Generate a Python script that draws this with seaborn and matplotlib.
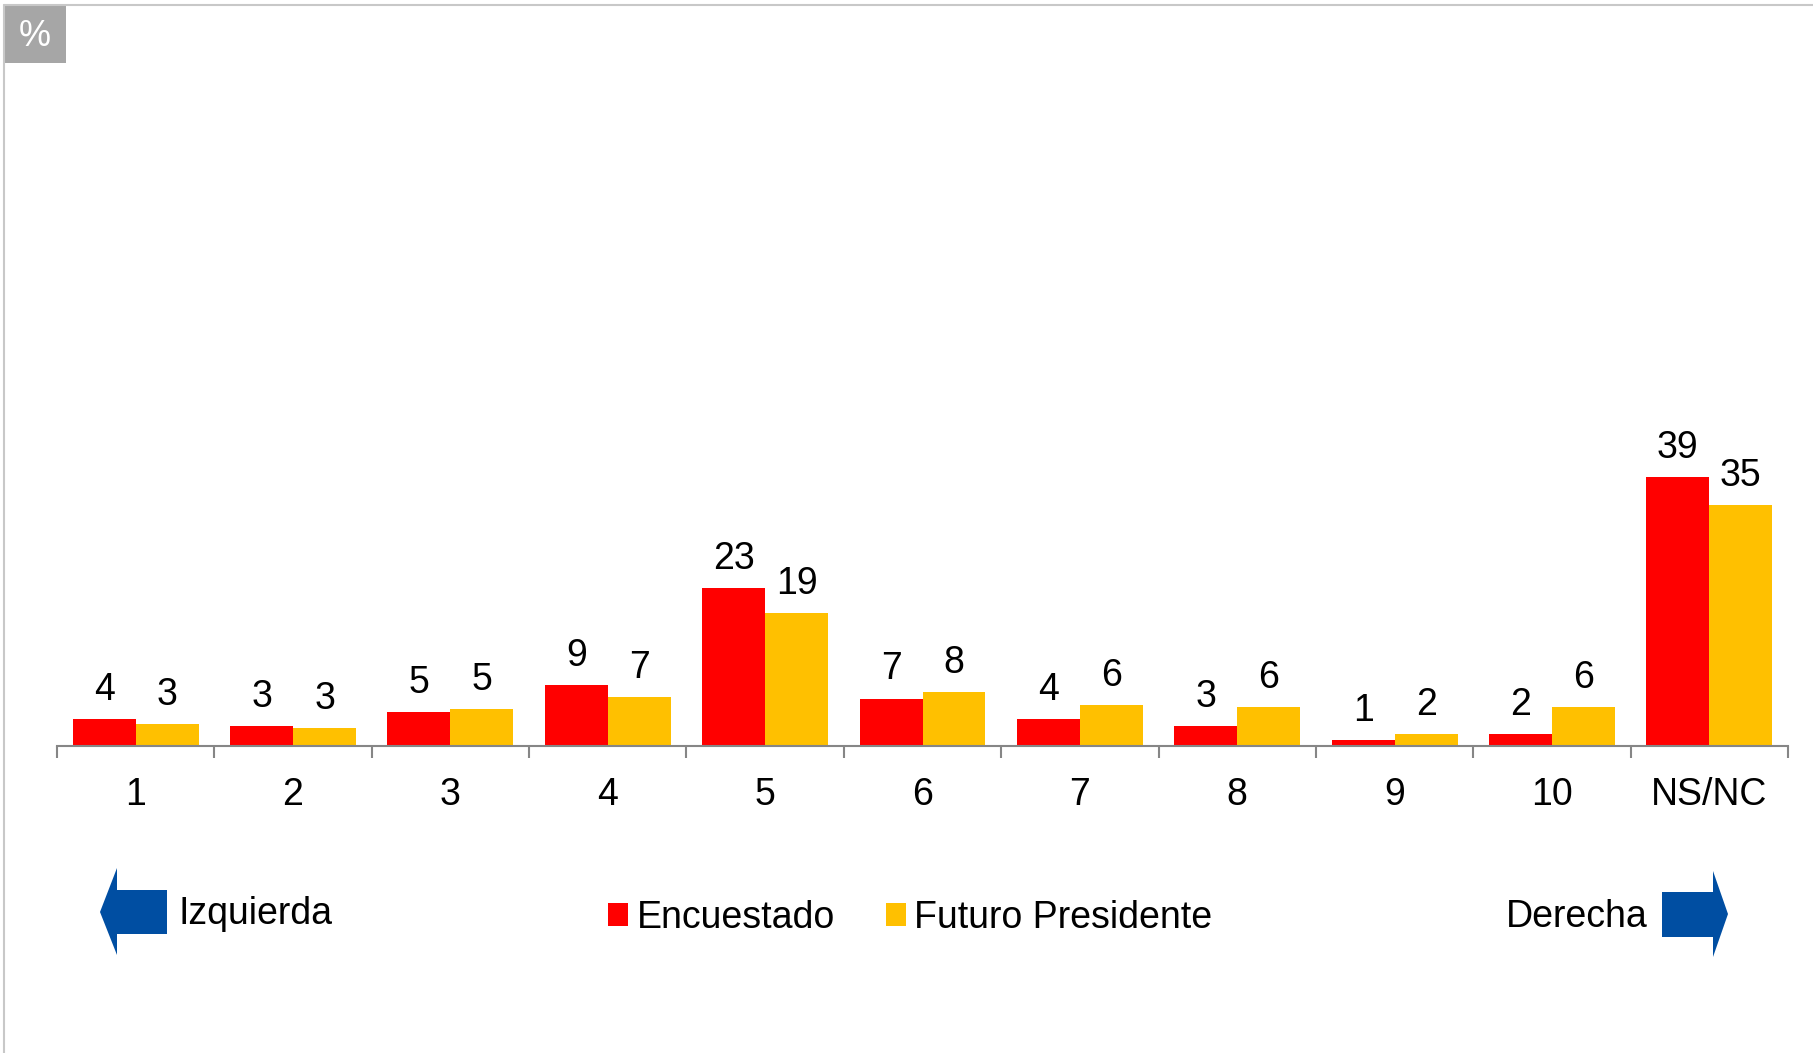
import pandas as pd
import numpy as np
import matplotlib.pyplot as plt
import seaborn as sns
from matplotlib.patches import Patch, Polygon, Rectangle
from matplotlib.lines import Line2D

# data (bar heights, labels are rounded)
categorias = ['1', '2', '3', '4', '5', '6', '7', '8', '9', '10', 'NS/NC']
encuestado = [3.9, 2.9, 4.9, 8.9, 23.0, 6.9, 3.9, 2.9, 0.8, 1.8, 39.1]
futuro_presidente = [3.2, 2.6, 5.4, 7.1, 19.3, 7.9, 6.0, 5.6, 1.7, 5.6, 35.0]
series = ['Encuestado', 'Futuro Presidente']
colores = ['#FF0000', '#FFC000']

df = pd.DataFrame({'cat': categorias, 'Encuestado': encuestado,
                   'Futuro Presidente': futuro_presidente})
long_df = df.melt(id_vars='cat', var_name='serie', value_name='valor')

sns.set_style('white')
plt.rcParams['font.family'] = ['Liberation Sans', 'DejaVu Sans']
plt.rcParams['text.color'] = 'black'
plt.rcParams['xtick.color'] = 'black'

FS = 27
W, H = 1813, 1053
fig = plt.figure(figsize=(W / 100, H / 100), dpi=100)
ax = fig.add_axes([57 / W, 1 - 746 / H, (1788 - 57) / W, 688 / H])

sns.barplot(data=long_df, x='cat', y='valor', hue='serie', order=categorias,
            hue_order=series, palette=colores, saturation=1, width=0.8,
            linewidth=0, ax=ax)
ax.legend_.remove()

for cont in ax.containers:
    ax.bar_label(cont, fmt='%.0f', padding=8, fontsize=FS, color='black')

ax.set_xlim(-0.5, len(categorias) - 0.5)
ax.set_ylim(0, 100)
ax.set_xlabel('')
ax.set_ylabel('')
ax.set_yticks([])
for s in ['top', 'left', 'right']:
    ax.spines[s].set_visible(False)
ax.spines['bottom'].set_color('#868686')
ax.spines['bottom'].set_linewidth(1.5)

# ticks at category edges, labels at centres
ax.set_xticks(np.arange(-0.5, len(categorias), 1.0))
ax.set_xticklabels([])
ax.tick_params(axis='x', which='major', bottom=True, length=8.5, width=1.5,
               color='#868686', direction='out')
ax.set_xticks(np.arange(len(categorias)), minor=True)
ax.set_xticklabels(categorias, minor=True, fontsize=FS, color='black')
ax.tick_params(axis='x', which='minor', bottom=True, length=0, pad=22)

# legend
handles = [Patch(facecolor=c, edgecolor='none') for c in colores]
fig.legend(handles, series, loc='center', bbox_to_anchor=(0.502, 1 - 918 / H),
           ncol=2, frameon=False, fontsize=FS, handlelength=0.55, handleheight=0.55,
           handletextpad=0.22, columnspacing=1.35)

# direction arrows
def px(x, y):
    return (x / W, 1 - y / H)

azul = '#004EA2'
izq = [px(100, 912), px(117, 868), px(117, 890), px(167, 890),
       px(167, 934), px(117, 934), px(117, 955)]
der = [px(1728, 914), px(1713, 871), px(1713, 892), px(1662, 892),
       px(1662, 937), px(1713, 937), px(1713, 957)]
for pts in [izq, der]:
    fig.patches.append(Polygon(pts, closed=True, facecolor=azul, edgecolor='none',
                               transform=fig.transFigure))
fig.text(179 / W, 1 - 914 / H, 'Izquierda', fontsize=FS, va='center', ha='left')
fig.text(1648 / W, 1 - 917 / H, 'Derecha', fontsize=FS, va='center', ha='right')

# frame and "%" box
fig.lines.append(Line2D([4 / W, 4 / W], [0, 1 - 5 / H], color='#C8C8C8', lw=1.5,
                        transform=fig.transFigure))
fig.lines.append(Line2D([4 / W, 1], [1 - 5 / H, 1 - 5 / H], color='#C8C8C8', lw=1.5,
                        transform=fig.transFigure))
fig.patches.append(Rectangle(px(5, 63), 61 / W, 57 / H, facecolor='#A6A6A6',
                             edgecolor='none', transform=fig.transFigure))
fig.text(35 / W, 1 - 36 / H, '%', color='white', fontsize=26, ha='center', va='center')

fig.savefig('out.png', dpi=100)
